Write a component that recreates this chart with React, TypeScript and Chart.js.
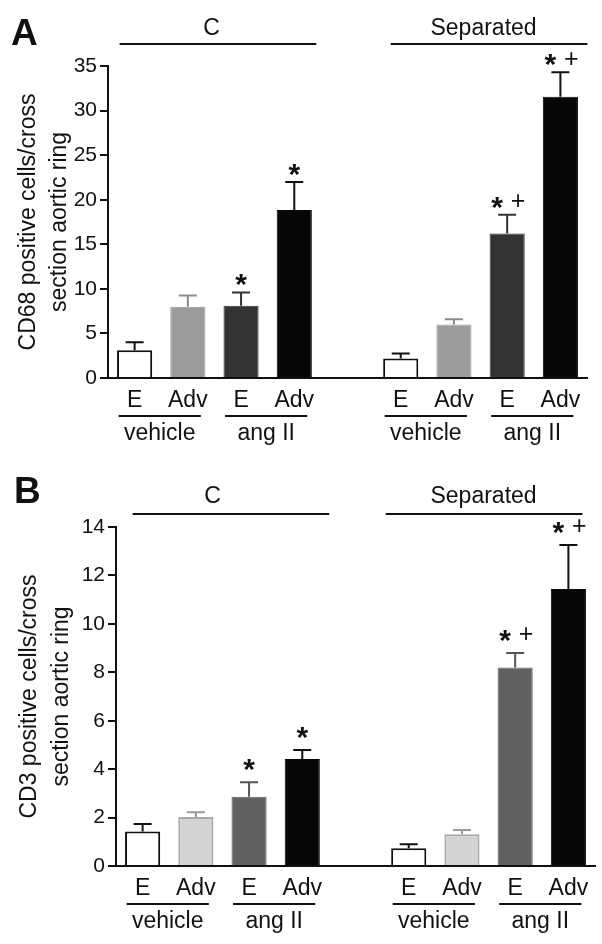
import React, { useEffect, useRef } from 'react';
import { Chart, registerables } from 'chart.js';

Chart.register(...registerables);

// ---- data ----
const categories = ['E', 'Adv', 'E', 'Adv', '', 'E', 'Adv', 'E', 'Adv'];
const treatmentGroups = ['vehicle', 'ang II', 'vehicle', 'ang II'];
const treatmentStarts = [0, 2, 5, 7];
const headerGroups = ['C', 'Separated'];
const headerRanges = [[0, 3], [5, 8]];

const cd68Means = [3.1, 8.0, 8.1, 18.85, null, 2.2, 6.0, 16.2, 31.55];
const cd68Errors = [0.9, 1.25, 1.5, 3.15, null, 0.55, 0.6, 2.1, 2.75];
const cd68Marks = ['', '', '*', '*', '', '', '', '* +', '* +'];
const cd68TitleLines = ['CD68 positive cells/cross', 'section aortic ring'];

const cd3Means = [1.42, 2.02, 2.86, 4.42, null, 0.73, 1.31, 8.2, 11.44];
const cd3Errors = [0.31, 0.2, 0.6, 0.37, null, 0.17, 0.18, 0.6, 1.82];
const cd3Marks = ['', '', '*', '*', '', '', '', '* +', '* +'];
const cd3TitleLines = ['CD3 positive cells/cross', 'section aortic ring'];

const FONT = "'Liberation Sans', Arial, Helvetica, sans-serif";
const INK = '#111111';

type Panel = {
  letter: string;
  height: number;
  means: (number | null)[];
  errors: (number | null)[];
  marks: string[];
  title: string[];
  yMax: number;
  yStep: number;
  fills: string[];
  borders: string[];
  borderWidths: number[];
  errColors: string[];
  axisLeft: number;
  padding: { top: number; bottom: number; left: number; right: number };
  letterX: number;
  letterBase: number;
  headerBase: number;
  headerLineY: number;
  headerSpans: number[][];
  headerDx: number[];
  titleX: number[];
  markGap: number;
};

const panels: Panel[] = [
  {
    letter: 'A',
    height: 470,
    means: cd68Means,
    errors: cd68Errors,
    marks: cd68Marks,
    title: cd68TitleLines,
    yMax: 35,
    yStep: 5,
    fills: ['#ffffff', '#9c9c9c', '#333333', '#070707', '#fff', '#ffffff', '#9c9c9c', '#333333', '#070707'],
    borders: ['#111111', '#9c9c9c', '#333333', '#070707', '#fff', '#111111', '#9c9c9c', '#333333', '#070707'],
    borderWidths: [2, 1, 1, 1, 0, 2, 1, 1, 1],
    errColors: ['#111111', '#8a8a8a', '#333333', '#111111', '#fff', '#111111', '#8a8a8a', '#333333', '#111111'],
    axisLeft: 108,
    padding: { top: 66, bottom: 92, left: 0, right: 15 },
    letterX: 11,
    letterBase: 45,
    headerBase: 35,
    headerLineY: 44,
    headerSpans: [[-15, 22], [-10, 27]],
    headerDx: [-3, 3],
    titleX: [35, 66],
    markGap: 12,
  },
  {
    letter: 'B',
    height: 474,
    means: cd3Means,
    errors: cd3Errors,
    marks: cd3Marks,
    title: cd3TitleLines,
    yMax: 14,
    yStep: 2,
    fills: ['#ffffff', '#d3d3d3', '#616161', '#070707', '#fff', '#ffffff', '#d3d3d3', '#616161', '#070707'],
    borders: ['#111111', '#a9a9a9', '#616161', '#070707', '#fff', '#111111', '#a9a9a9', '#616161', '#070707'],
    borderWidths: [2, 2, 1, 1, 0, 2, 2, 1, 1],
    errColors: ['#111111', '#9a9a9a', '#555555', '#111111', '#fff', '#111111', '#9a9a9a', '#555555', '#111111'],
    axisLeft: 116,
    padding: { top: 57, bottom: 78, left: 0, right: 7 },
    letterX: 14,
    letterBase: 33,
    headerBase: 33,
    headerLineY: 44,
    headerSpans: [[-10, 27], [-23, 14]],
    headerDx: [-10, -5],
    titleX: [36, 68],
    markGap: 17,
  },
];

function fillCentered(ctx: CanvasRenderingContext2D, text: string, x: number, cy: number) {
  const m = ctx.measureText(text);
  const asc = m.actualBoundingBoxAscent;
  const desc = m.actualBoundingBoxDescent;
  const base = cy - (desc - asc) / 2;
  ctx.fillText(text, x, base);
}

function annotPlugin(p: Panel) {
  return {
    id: 'annot' + p.letter,
    afterDatasetsDraw(chart: any) {
      const ctx = chart.ctx as CanvasRenderingContext2D;
      const xs = chart.scales.x;
      const ys = chart.scales.y;
      const area = chart.chartArea;
      const axisY = ys.getPixelForValue(0);
      ctx.save();
      ctx.fillStyle = INK;
      ctx.strokeStyle = INK;

      // error bars and significance marks
      p.means.forEach((m, i) => {
        if (m == null) return;
        const e = p.errors[i] as number;
        const cx = xs.getPixelForValue(i);
        const y0 = ys.getPixelForValue(m);
        const y1 = ys.getPixelForValue(m + e);
        ctx.strokeStyle = p.errColors[i];
        ctx.lineWidth = 2;
        ctx.beginPath();
        ctx.moveTo(cx, y0);
        ctx.lineTo(cx, y1);
        ctx.moveTo(cx - 9, y1);
        ctx.lineTo(cx + 9, y1);
        ctx.stroke();

        const mark = p.marks[i];
        if (mark) {
          ctx.fillStyle = INK;
          ctx.textAlign = 'center';
          const cy = y1 - p.markGap;
          ctx.font = `bold 30px ${FONT}`;
          if (mark === '*') {
            fillCentered(ctx, '*', cx, cy);
          } else {
            fillCentered(ctx, '*', cx - 10, cy);
            ctx.font = `25px ${FONT}`;
            fillCentered(ctx, '+', cx + 11, cy - 2);
          }
        }
      });

      ctx.fillStyle = INK;
      ctx.strokeStyle = INK;

      // category labels under axis
      ctx.font = `23px ${FONT}`;
      ctx.textAlign = 'center';
      ctx.textBaseline = 'alphabetic';
      categories.forEach((c, i) => {
        if (!c) return;
        ctx.fillText(c, xs.getPixelForValue(i), axisY + 29);
      });

      // treatment group lines & labels
      treatmentGroups.forEach((g, k) => {
        const s = treatmentStarts[k];
        const x0 = xs.getPixelForValue(s) - 16;
        const x1 = xs.getPixelForValue(s + 1) + 13;
        ctx.lineWidth = 2;
        ctx.beginPath();
        ctx.moveTo(x0, axisY + 38);
        ctx.lineTo(x1, axisY + 38);
        ctx.stroke();
        ctx.fillText(g, (x0 + x1) / 2, axisY + 62);
      });

      // header groups
      headerGroups.forEach((h, k) => {
        const [a, b] = headerRanges[k];
        const pa = xs.getPixelForValue(a);
        const pb = xs.getPixelForValue(b);
        const x0 = pa + p.headerSpans[k][0];
        const x1 = pb + p.headerSpans[k][1];
        ctx.lineWidth = 2;
        ctx.beginPath();
        ctx.moveTo(x0, p.headerLineY);
        ctx.lineTo(x1, p.headerLineY);
        ctx.stroke();
        ctx.font = `23px ${FONT}`;
        ctx.textAlign = 'center';
        ctx.fillText(h, (pa + pb) / 2 + p.headerDx[k], p.headerBase);
      });

      // panel letter
      ctx.font = `bold 37px ${FONT}`;
      ctx.textAlign = 'left';
      ctx.fillText(p.letter, p.letterX, p.letterBase);

      // y axis title (two lines, rotated)
      const cy = (area.top + area.bottom) / 2;
      ctx.font = `23px ${FONT}`;
      ctx.textAlign = 'center';
      p.title.forEach((line, k) => {
        ctx.save();
        ctx.translate(p.titleX[k], cy);
        ctx.rotate(-Math.PI / 2);
        ctx.fillText(line, 0, 0);
        ctx.restore();
      });

      ctx.restore();
    },
  };
}

function PanelChart({ p }: { p: Panel }) {
  const ref = useRef<HTMLCanvasElement | null>(null);
  useEffect(() => {
    if (!ref.current) return;
    const chart = new Chart(ref.current, {
      type: 'bar',
      data: {
        labels: categories,
        datasets: [
          {
            data: p.means as any,
            backgroundColor: p.fills,
            borderColor: p.borders,
            borderWidth: p.borderWidths,
            barPercentage: 0.66,
            categoryPercentage: 1,
          },
        ],
      },
      options: {
        responsive: false,
        animation: false,
        devicePixelRatio: 1,
        layout: { padding: p.padding },
        plugins: { legend: { display: false }, tooltip: { enabled: false } },
        scales: {
          x: {
            offset: true,
            grid: { display: false },
            border: { display: true, color: INK, width: 2 },
            ticks: { display: false },
            afterFit: (s: any) => {
              s.height = 0;
            },
          },
          y: {
            min: 0,
            max: p.yMax,
            ticks: {
              stepSize: p.yStep,
              color: INK,
              padding: 3,
              font: { family: FONT, size: 21 },
            },
            grid: {
              drawOnChartArea: false,
              drawTicks: true,
              tickLength: 8,
              color: INK,
              lineWidth: 2,
            },
            border: { display: true, color: INK, width: 2 },
            afterFit: (s: any) => {
              s.width = p.axisLeft;
            },
          },
        },
      } as any,
      plugins: [annotPlugin(p)],
    });
    return () => chart.destroy();
  }, [p]);
  return (
    <canvas
      ref={ref}
      width={602}
      height={p.height}
      style={{ display: 'block', width: 602, height: p.height }}
    />
  );
}

export default function App() {
  return (
    <div
      style={{
        position: 'absolute',
        left: 0,
        top: 0,
        width: 602,
        height: 944,
        background: '#ffffff',
        overflow: 'hidden',
      }}
    >
      {panels.map((p) => (
        <PanelChart key={p.letter} p={p} />
      ))}
    </div>
  );
}
